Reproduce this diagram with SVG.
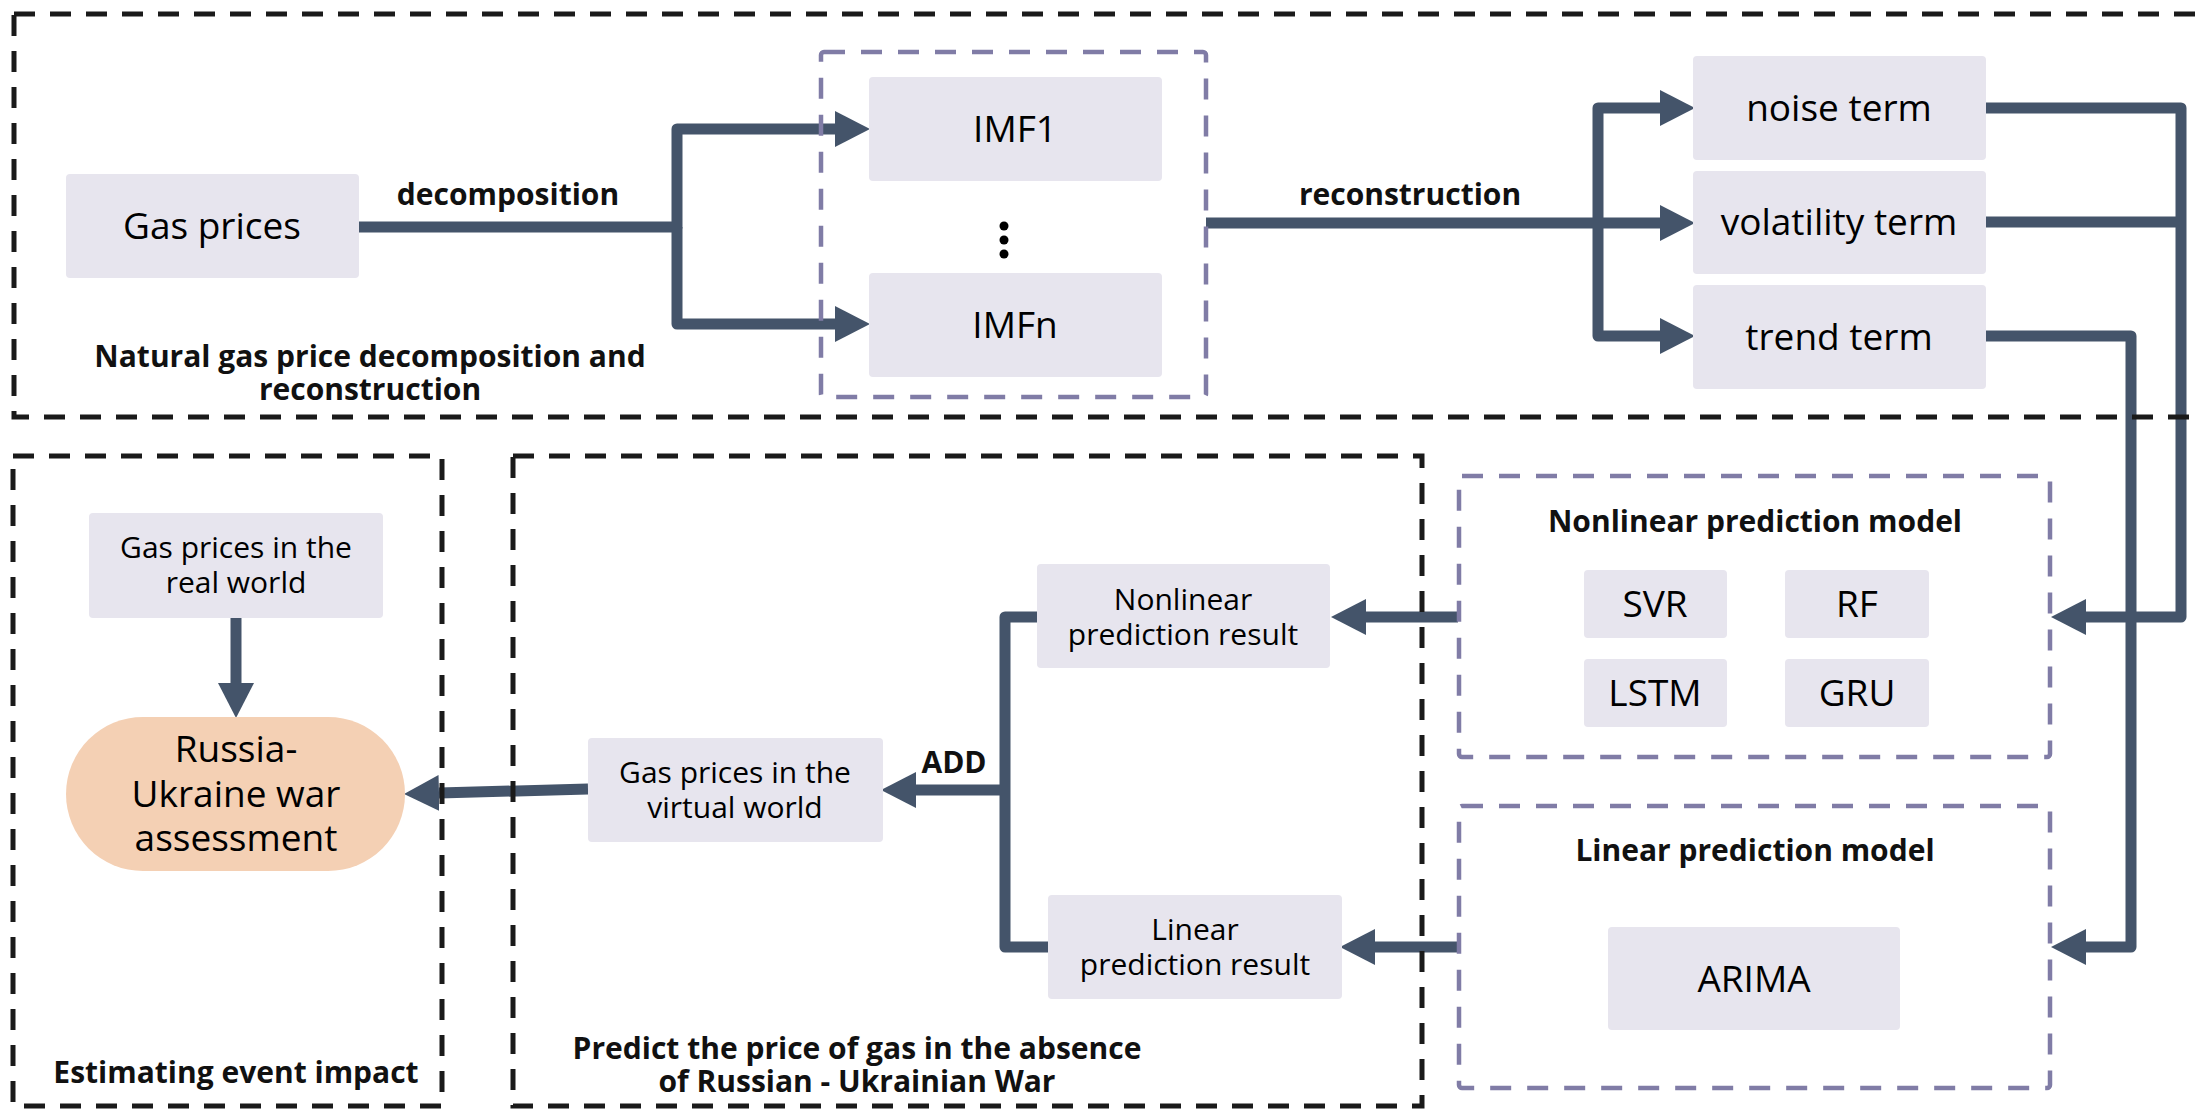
<svg xmlns="http://www.w3.org/2000/svg" width="2201" height="1110" viewBox="0 0 2201 1110">
<style>
.frame{fill:none;stroke:#1a1a1a;stroke-width:5;stroke-dasharray:21 15}
.pframe{fill:none;stroke:#807ca6;stroke-width:4.5;stroke-dasharray:21 16}
.box{fill:#e7e5ee}
.pill{fill:#f4d0b4}
.t{font-family:"Open Sans","Noto Sans",sans-serif;fill:#000;text-anchor:middle}
.big{font-size:37px}
.sm{font-size:30px}
.b{font-family:"Open Sans","Noto Sans",sans-serif;font-weight:bold;fill:#111;text-anchor:middle;font-size:30px}
.c{fill:none;stroke:#44546a;stroke-width:11;stroke-linejoin:round}
</style>
<defs>
<marker id="ah" markerUnits="userSpaceOnUse" markerWidth="36" markerHeight="38" viewBox="0 0 36 38" refX="0" refY="19" orient="auto">
<path d="M0,1 L35,19 L0,37 Z" fill="#44546a"/>
</marker>
</defs>
<rect width="2201" height="1110" fill="#fff"/>

<g id="connectors">
<path class="c" d="M359,227 H677 V129 H835" marker-end="url(#ah)"/>
<path class="c" d="M677,227 V324 H835" marker-end="url(#ah)"/>
<path class="c" d="M1206,223 H1598 V108 H1660" marker-end="url(#ah)"/>
<path class="c" d="M1598,223 H1660" marker-end="url(#ah)"/>
<path class="c" d="M1598,223 V336 H1660" marker-end="url(#ah)"/>
<path class="c" d="M1986,108 H2181 V617 H2086" marker-end="url(#ah)"/>
<path class="c" d="M1986,222 H2181"/>
<path class="c" d="M1986,336 H2131 V947 H2086" marker-end="url(#ah)"/>
<path class="c" d="M1458,617 H1366" marker-end="url(#ah)"/>
<path class="c" d="M1460,947 H1375" marker-end="url(#ah)"/>
<path class="c" d="M1037,617 H1005 V947 H1048"/>
<path class="c" d="M1005,790 H916" marker-end="url(#ah)"/>
<path class="c" d="M588,789 L439,793" marker-end="url(#ah)"/>
<path class="c" d="M236,618 V683" marker-end="url(#ah)"/>
</g>

<g id="frames">
<rect id="frame-decomp" class="frame" x="14" y="14" width="2200" height="403"/>
<rect id="frame-imf" class="pframe" x="821" y="52" width="385" height="345" rx="3"/>
<rect id="frame-impact" class="frame" x="13" y="456" width="429" height="650"/>
<rect id="frame-predict" class="frame" x="513" y="456" width="909" height="650"/>
<rect id="frame-nonlinear" class="pframe" x="1459" y="476" width="591" height="281" rx="3"/>
<rect id="frame-linear" class="pframe" x="1459" y="806" width="591" height="282" rx="3"/>
</g>

<g id="labels">
<text class="b" x="508" y="205">decomposition</text>
<text class="b" x="1410" y="205">reconstruction</text>
<text class="b" x="370" y="367">Natural gas price decomposition and<tspan x="370" dy="33">reconstruction</tspan></text>
<text class="b" x="954" y="773">ADD</text>
<text class="b" x="236" y="1083">Estimating event impact</text>
<text class="b" x="857" y="1059">Predict the price of gas in the absence<tspan x="857" dy="33">of Russian - Ukrainian War</tspan></text>
<text class="b" x="1755" y="532">Nonlinear prediction model</text>
<text class="b" x="1755" y="861">Linear prediction model</text>
</g>

<g id="gas-prices"><rect class="box" x="66" y="174" width="293" height="104" rx="4"/><text class="t big" x="212" y="239">Gas prices</text></g>
<g id="imf1"><rect class="box" x="869" y="77" width="293" height="104" rx="4"/><text class="t big" x="1015" y="142">IMF1</text></g>
<g id="imf-dots"><circle cx="1004" cy="226" r="4.5"/><circle cx="1004" cy="240" r="4.5"/><circle cx="1004" cy="254" r="4.5"/></g>
<g id="imfn"><rect class="box" x="869" y="273" width="293" height="104" rx="4"/><text class="t big" x="1015" y="338">IMFn</text></g>
<g id="noise-term"><rect class="box" x="1693" y="56" width="293" height="104" rx="4"/><text class="t big" x="1839" y="121">noise term</text></g>
<g id="volatility-term"><rect class="box" x="1693" y="171" width="293" height="103" rx="4"/><text class="t big" x="1839" y="235">volatility term</text></g>
<g id="trend-term"><rect class="box" x="1693" y="285" width="293" height="104" rx="4"/><text class="t big" x="1839" y="350">trend term</text></g>
<g id="svr"><rect class="box" x="1584" y="570" width="143" height="68" rx="4"/><text class="t big" x="1655" y="617">SVR</text></g>
<g id="rf"><rect class="box" x="1785" y="570" width="144" height="68" rx="4"/><text class="t big" x="1857" y="617">RF</text></g>
<g id="lstm"><rect class="box" x="1584" y="659" width="143" height="68" rx="4"/><text class="t big" x="1655" y="706">LSTM</text></g>
<g id="gru"><rect class="box" x="1785" y="659" width="144" height="68" rx="4"/><text class="t big" x="1857" y="706">GRU</text></g>
<g id="arima"><rect class="box" x="1608" y="927" width="292" height="103" rx="4"/><text class="t big" x="1754" y="992">ARIMA</text></g>
<g id="nonlinear-result"><rect class="box" x="1037" y="564" width="293" height="104" rx="4"/><text class="t sm" x="1183" y="610">Nonlinear<tspan x="1183" dy="35">prediction result</tspan></text></g>
<g id="linear-result"><rect class="box" x="1048" y="895" width="294" height="104" rx="4"/><text class="t sm" x="1195" y="940">Linear<tspan x="1195" dy="35">prediction result</tspan></text></g>
<g id="virtual-world"><rect class="box" x="588" y="738" width="295" height="104" rx="4"/><text class="t sm" x="735" y="783">Gas prices in the<tspan x="735" dy="35">virtual world</tspan></text></g>
<g id="real-world"><rect class="box" x="89" y="513" width="294" height="105" rx="4"/><text class="t sm" x="236" y="558">Gas prices in the<tspan x="236" dy="35">real world</tspan></text></g>
<g id="war-assessment"><rect class="pill" x="66" y="717" width="339" height="154" rx="77" ry="77"/><text class="t big" x="236" y="762">Russia-<tspan x="236" dy="45">Ukraine war</tspan><tspan x="236" dy="44">assessment</tspan></text></g>
</svg>
